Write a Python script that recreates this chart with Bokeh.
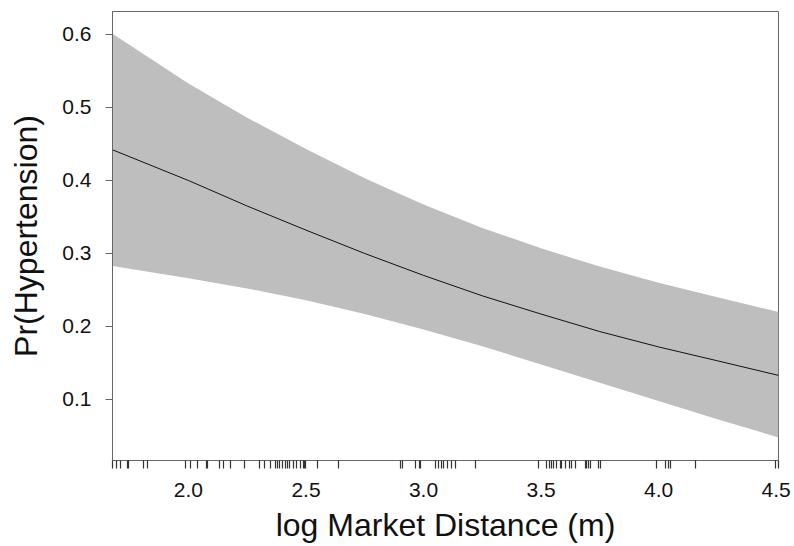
from bokeh.plotting import figure
from bokeh.models import FixedTicker, Range1d
from bokeh.embed import file_html
from bokeh.resources import INLINE

# fitted probability and confidence band
x_grid = [1.677, 2.0, 2.25, 2.5, 2.75, 3.0, 3.25, 3.5, 3.75, 4.0, 4.25, 4.51]
fit = [0.442, 0.400, 0.365, 0.332, 0.300, 0.270, 0.242, 0.217, 0.193, 0.172, 0.153, 0.133]
upper = [0.601, 0.533, 0.486, 0.443, 0.403, 0.367, 0.335, 0.307, 0.282, 0.260, 0.240, 0.220]
lower = [0.283, 0.266, 0.252, 0.236, 0.217, 0.196, 0.173, 0.148, 0.123, 0.098, 0.073, 0.048]

# rug of observed log market distances
rug = [1.677, 1.694, 1.711, 1.739, 1.743, 1.808, 1.826, 1.989, 2.009, 2.037,
       2.078, 2.082, 2.134, 2.151, 2.181, 2.240, 2.301, 2.323, 2.347, 2.371,
       2.380, 2.389, 2.399, 2.411, 2.422, 2.432, 2.446, 2.460, 2.475, 2.491,
       2.495, 2.500, 2.550, 2.637, 2.900, 2.909, 2.964, 2.981, 2.988, 3.053,
       3.063, 3.077, 3.087, 3.101, 3.120, 3.134, 3.138, 3.219, 3.491, 3.525,
       3.534, 3.544, 3.552, 3.567, 3.581, 3.588, 3.606, 3.619, 3.631, 3.645,
       3.687, 3.694, 3.701, 3.709, 3.744, 3.751, 3.992, 4.028, 4.042, 4.049,
       4.155, 4.499, 4.510]

x_ticks = [2.0, 2.5, 3.0, 3.5, 4.0, 4.5]
y_ticks = [0.1, 0.2, 0.3, 0.4, 0.5, 0.6]

FONT = "Liberation Sans"
GREY = "#666666"

p = figure(width=794, height=546, output_backend="svg", toolbar_location=None,
           x_range=Range1d(min(rug), max(rug)), y_range=Range1d(0.0164, 0.6315),
           min_border_left=112, min_border_right=16, min_border_top=11,
           min_border_bottom=86)

p.varea(x=x_grid, y1=lower, y2=upper, fill_color="#BEBEBE", fill_alpha=1.0)
p.line(x=x_grid, y=fit, line_color="#111111", line_width=1)

p.xgrid.visible = False
p.ygrid.visible = False
p.outline_line_color = GREY
p.outline_line_width = 1
p.background_fill_color = "white"
p.border_fill_color = "white"

xa = p.xaxis[0]
xa.ticker = FixedTicker(ticks=x_ticks, minor_ticks=rug)
xa.major_label_overrides = {t: f"{t:.1f}" for t in x_ticks}
xa.major_tick_out = 0
xa.major_tick_in = 0
xa.minor_tick_out = 8
xa.minor_tick_in = 0
xa.minor_tick_line_color = "#333333"
xa.minor_tick_line_width = 1.2
xa.axis_line_color = GREY
xa.major_label_standoff = 14
xa.major_label_text_font = FONT
xa.major_label_text_font_size = "21px"
xa.major_label_text_color = "#111111"
xa.axis_label = "log Market Distance (m)"
xa.axis_label_text_font = FONT
xa.axis_label_text_font_size = "32px"
xa.axis_label_text_font_style = "normal"
xa.axis_label_text_color = "#111111"
xa.axis_label_standoff = 7

ya = p.yaxis[0]
ya.ticker = FixedTicker(ticks=y_ticks)
ya.major_label_overrides = {t: f"{t:.1f}" for t in y_ticks}
ya.major_tick_out = 7
ya.major_tick_in = 0
ya.minor_tick_out = 0
ya.minor_tick_in = 0
ya.major_tick_line_color = GREY
ya.axis_line_color = GREY
ya.major_label_orientation = "horizontal"
ya.major_label_standoff = 14
ya.major_label_text_font = FONT
ya.major_label_text_font_size = "21px"
ya.major_label_text_color = "#111111"
ya.axis_label = "Pr(Hypertension)"
ya.axis_label_text_font = FONT
ya.axis_label_text_font_size = "32px"
ya.axis_label_text_font_style = "normal"
ya.axis_label_text_color = "#111111"
ya.axis_label_standoff = 15

open("out.html", "w").write(file_html(p, INLINE))
